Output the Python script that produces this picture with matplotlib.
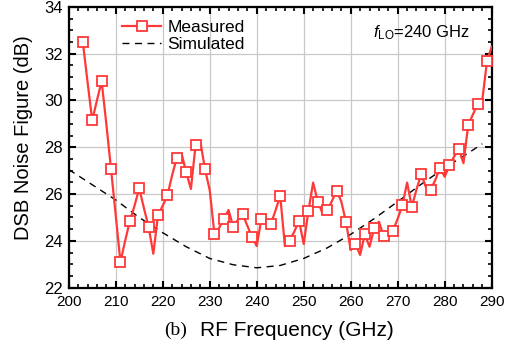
import numpy as np
import matplotlib
matplotlib.use("Agg")
import matplotlib.pyplot as plt
from matplotlib.ticker import MultipleLocator

plt.rcParams['font.family'] = ['Liberation Sans', 'DejaVu Sans']
plt.rcParams['mathtext.fontset'] = 'custom'
plt.rcParams['mathtext.rm'] = 'Liberation Sans'
plt.rcParams['mathtext.it'] = 'Liberation Sans:italic'

# measured DSB noise figure, 1 GHz steps (markers every 2 GHz)
freq_meas = list(range(203, 291))
nf_meas = [
    32.5, 30.8, 29.15, 30.0, 30.83, 29.0, 27.07, 25.1, 23.1, 24.0,   # 203-212
    24.84, 25.5, 26.25, 25.4, 24.6, 23.45, 25.1, 25.5, 25.95, 26.8,  # 213-222
    27.56, 27.74, 26.93, 26.22, 28.11, 28.25, 27.06, 26.17, 24.29, 24.55,  # 223-232
    24.94, 25.32, 24.61, 24.9, 25.15, 24.65, 24.18, 23.78, 24.94, 24.85,  # 233-242
    24.72, 25.3, 25.93, 23.78, 24.01, 24.4, 24.86, 23.87, 25.28, 26.49,  # 243-252
    25.68, 25.18, 25.32, 25.7, 26.15, 25.68, 24.81, 23.61, 23.87, 23.4,  # 253-262
    24.28, 23.75, 24.54, 24.82, 24.21, 24.3, 24.44, 24.95, 25.53, 26.49,  # 263-272
    25.45, 26.2, 26.85, 26.3, 26.19, 26.6, 27.13, 26.74, 27.23, 27.6,   # 273-282
    27.93, 27.32, 28.95, 29.4, 29.85, 30.02, 31.67, 32.3,               # 283-290
]

# simulated curve
freq_sim = [200, 205, 210, 215, 220, 225, 230, 235, 240, 245,
            250, 255, 260, 265, 270, 275, 280, 285, 288]
nf_sim = [27.05, 26.4, 25.75, 25.0, 24.35, 23.75, 23.25, 22.98, 22.85, 22.95,
          23.25, 23.7, 24.28, 24.95, 25.68, 26.42, 27.12, 27.75, 28.15]

RED = "#ff3838"

fig = plt.figure(figsize=(5.14, 3.52), dpi=100)
ax = fig.add_axes([0.1337, 0.1827, 0.8229, 0.7977])

ax.grid(True, which="major", color="#c8c8c8", lw=0.9, zorder=0)
ax.plot(freq_sim, nf_sim, color="black", lw=1.0, ls=(0, (5, 4)),
        label="Simulated", zorder=2)
ax.plot(freq_meas, nf_meas, color=RED, lw=1.6, marker="s", markevery=2,
        markersize=7, markerfacecolor="white", markeredgecolor=RED,
        markeredgewidth=1.3, label="Measured", zorder=3)

ax.set_xlim(200, 290)
ax.set_ylim(22, 34)
ax.xaxis.set_major_locator(MultipleLocator(10))
ax.xaxis.set_minor_locator(MultipleLocator(2))
ax.yaxis.set_major_locator(MultipleLocator(2))
ax.yaxis.set_minor_locator(MultipleLocator(0.5))
ax.tick_params(which="both", direction="in", top=True, right=True, color="black")
ax.tick_params(axis="x", labelsize=11, pad=5)
ax.tick_params(axis="y", labelsize=12, pad=4)
ax.tick_params(which="major", length=5, width=1.5)
ax.tick_params(which="minor", length=3, width=1.2)
for s in ax.spines.values():
    s.set_linewidth(1.6)

ax.set_ylabel("DSB Noise Figure (dB)", fontsize=14.5)
ax.yaxis.set_label_coords(-0.084, 0.533)

handles, labels = ax.get_legend_handles_labels()
ax.legend(handles[::-1], labels[::-1], loc="upper left",
          bbox_to_anchor=(0.09, 1.01), frameon=False, fontsize=12.5,
          handlelength=2.2, handletextpad=0.4, labelspacing=0.12)

ax.text(0.949, 0.907, r"$\mathit{f}_{\rm LO}$=240 GHz", transform=ax.transAxes,
        ha="right", va="center", fontsize=12)

fig.text(0.364, 0.062, "(b)", family="Liberation Serif", fontsize=14,
         ha="right", va="center")
fig.text(0.390, 0.062, "RF Frequency (GHz)", fontsize=15, ha="left", va="center")

fig.savefig("out.png", dpi=100)
